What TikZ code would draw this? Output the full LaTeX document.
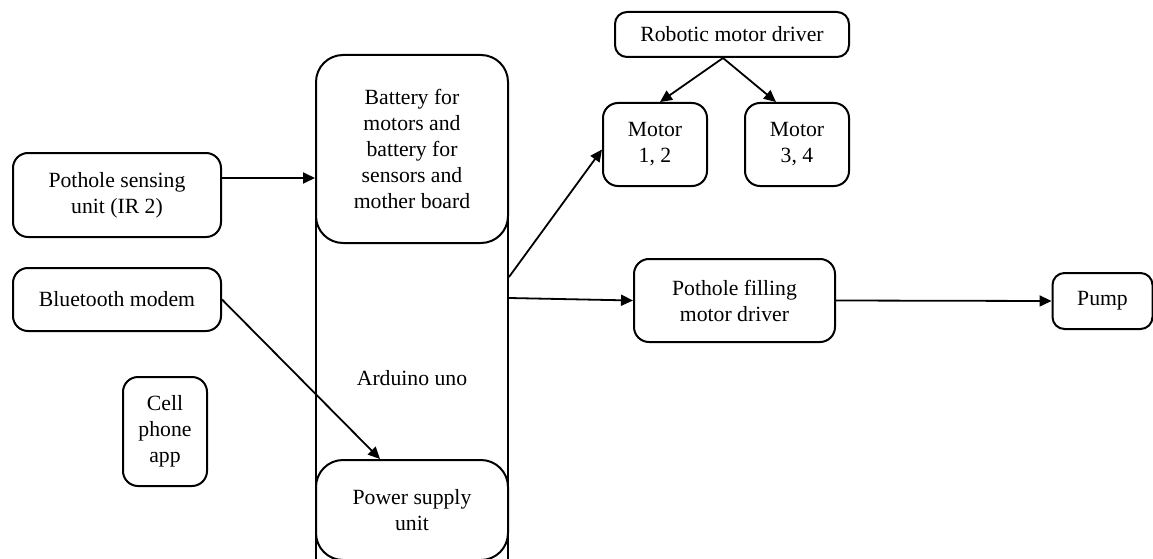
\documentclass[tikz,border=0pt]{standalone}
\usepackage{fontspec}
\setmainfont{Liberation Serif}
\usetikzlibrary{arrows.meta}
\begin{document}
\begin{tikzpicture}[x=1pt,y=-1pt,
  txt/.style={font=\fontsize{21.7}{26}\selectfont, align=center, inner sep=0pt},
  box/.style={txt, draw, line width=2pt, rounded corners=#1, fill=white},
  box/.default=15pt,
  arr/.style={line width=1.8pt, -{Triangle[length=12pt,width=11pt]}}]
\useasboundingbox (0,0) rectangle (1153,559);
\clip (0,0) rectangle (1153,559);
\node[txt, draw, line width=2pt, minimum width=192pt, minimum height=394pt] (ard) at (412,378) {Arduino uno};
\node[box=27pt, minimum width=192pt, minimum height=188pt] (bat) at (412,149) {Battery for\\motors and\\battery for\\sensors and\\mother board};
\node[box=27pt, minimum width=192pt, minimum height=100pt] (psu) at (412,510) {Power supply\\unit};
\node[box, minimum width=208pt, minimum height=84pt] (sense) at (117,195) {Pothole sensing\\unit (IR 2)};
\node[box, minimum width=208pt, minimum height=63pt] (bt) at (117,299.5) {Bluetooth modem};
\node[box, minimum width=84pt, minimum height=109pt] (cell) at (165,431.5) {Cell\\phone\\app};
\node[box=12pt, minimum width=234pt, minimum height=45pt] (rmd) at (732,34.5) {Robotic motor driver};
\node[box, minimum width=104pt, minimum height=83pt] (m12) at (655,144.5) {Motor\\1, 2};
\node[box, minimum width=104pt, minimum height=83pt] (m34) at (797,144.5) {Motor\\3, 4};
\node[box, minimum width=201pt, minimum height=83pt] (pfill) at (734.5,300.5) {Pothole filling\\motor driver};
\node[box=12pt, minimum width=100pt, minimum height=56pt] (pump) at (1102.5,301) {Pump};
\draw[arr] ([yshift=17pt]sense.east) -- ([yshift=17pt]sense.east -| bat.west);
\draw[arr] (bt.east) -- ([xshift=-32pt]psu.north);
\draw[arr] ([yshift=101pt]ard.east) -- ([yshift=-5pt]m12.west);
\draw[arr] ([yshift=80pt]ard.east) -- (pfill.west);
\draw[arr] (pfill.east) -- (pump.west);
\draw[arr] ([xshift=-9pt]rmd.south) -- ([xshift=5pt]m12.north);
\draw[arr] ([xshift=-9pt]rmd.south) -- ([xshift=-21pt]m34.north);
\end{tikzpicture}
\end{document}
